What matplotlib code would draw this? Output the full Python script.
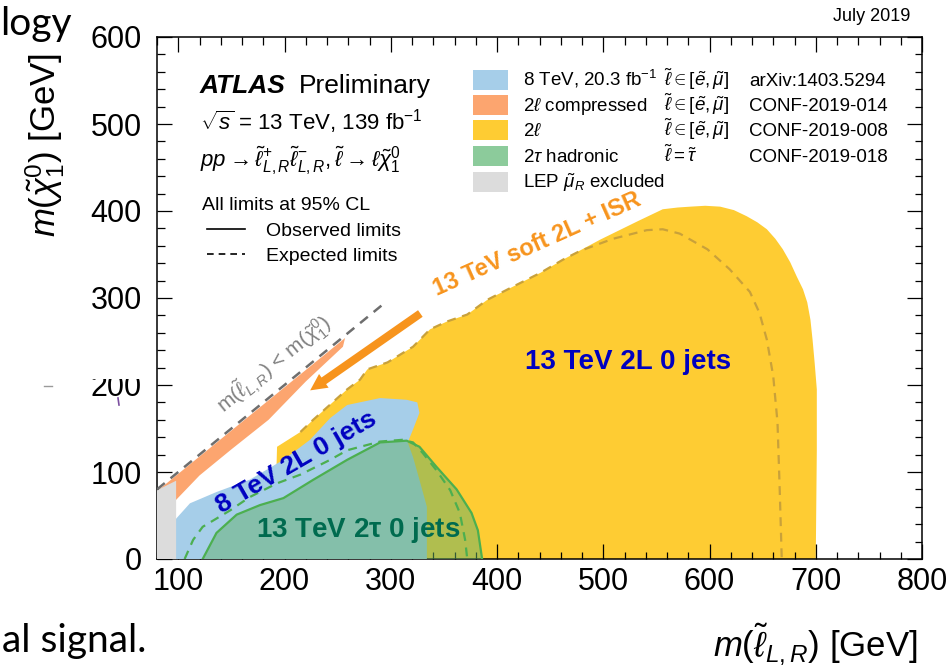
import matplotlib
matplotlib.use("Agg")
import matplotlib.pyplot as plt
from matplotlib.patches import Rectangle, FancyArrowPatch
from matplotlib.lines import Line2D
from matplotlib.ticker import MultipleLocator

plt.rcParams["font.family"] = ["Liberation Sans", "DejaVu Sans"]
plt.rcParams["mathtext.fontset"] = "custom"
plt.rcParams["mathtext.rm"] = "Liberation Sans"
plt.rcParams["mathtext.it"] = "Liberation Sans:italic"
plt.rcParams["mathtext.bf"] = "Liberation Sans:bold"

# exclusion contours, m(slepton) vs m(neutralino) in GeV
yellow_obs_x = [190, 193, 215, 227, 259, 271, 278, 297, 321, 337, 353, 372, 391, 415, 441, 462,
                497, 532, 556, 570, 582, 596, 610, 623, 635, 645, 654, 662, 669, 676, 682, 688,
                692, 695, 697, 699, 701, 701, 701, 700]
yellow_obs_y = [0, 129, 146, 160, 195, 206, 218, 226, 244, 264, 273, 281, 298, 313, 329, 344,
                367, 388, 402, 404, 405, 406, 405, 401, 394, 387, 379, 368, 356, 341, 325, 310,
                295, 275, 252, 225, 195, 160, 125, 0]
yellow_exp_x = [215, 227, 259, 271, 278, 297, 321, 337, 353, 372, 391, 415, 441, 462, 478, 509,
                541, 556, 572, 598, 619, 638, 647, 654, 660, 664, 666, 668]
yellow_exp_y = [146, 160, 195, 206, 218, 226, 244, 264, 273, 281, 298, 313, 329, 344, 354, 368,
                378, 379, 374, 356, 333, 307, 283, 252, 210, 157, 83, 0]

blue_x = [97, 97, 111, 136, 167, 199, 224, 243, 259, 290, 315, 325, 327, 321, 316, 321, 327, 334, 334]
blue_y = [0, 45, 64, 77, 91, 114, 137, 162, 177, 185, 183, 180, 168, 149, 134, 117, 91, 60, 0]

green_obs_x = [123, 136, 155, 177, 199, 227, 259, 290, 315, 327, 343, 362, 376, 382, 386]
green_obs_y = [0, 30, 51, 62, 70, 91, 114, 134, 136, 129, 106, 80, 53, 33, 0]
green_exp_x = [106, 114, 123, 149, 167, 193, 215, 243, 259, 290, 311, 321, 330, 343, 356, 365, 370, 372]
green_exp_y = [0, 22, 37, 56, 71, 87, 97, 114, 125, 135, 137, 134, 122, 102, 79, 53, 22, 0]

orange_x = [80, 257, 255, 220, 185, 150, 120, 98, 80]
orange_y = [78, 254, 244, 204, 160, 126, 96, 68, 50]

lep_x = [80, 80, 98, 98]
lep_y = [0, 79, 90, 0]

diag_x = [80, 296]
diag_y = [80, 296]

arrow_tail = (330, 284)
arrow_head = (222, 192)

legend_names = [r"8 TeV, 20.3 fb$^{-1}$", r"2$\ell$ compressed", r"2$\ell$",
                r"2$\tau$ hadronic", r"LEP $\tilde{\mu}_R$ excluded"]
legend_states = [r"$\tilde{\ell} \in [\tilde{e}, \tilde{\mu}]$", r"$\tilde{\ell} \in [\tilde{e}, \tilde{\mu}]$",
                 r"$\tilde{\ell} \in [\tilde{e}, \tilde{\mu}]$", r"$\tilde{\ell} = \tilde{\tau}$", ""]
legend_refs = ["arXiv:1403.5294", "CONF-2019-014", "CONF-2019-008", "CONF-2019-018", ""]

C_YELLOW = "#FECC33"
C_BLUE = "#A6CEE9"
C_GREEN = "#64B26C"
C_ORANGE = "#FCA56F"
C_GRAY = "#DCDCDC"
C_LINE_GREEN = "#4CAF50"
legend_colors = [C_BLUE, C_ORANGE, C_YELLOW, "#8CCB9B", C_GRAY]

W, H = 951, 670


def fx(px):
    return px / W


def fy(py):
    return 1 - py / H


fig = plt.figure(figsize=(W / 100, H / 100), dpi=100)
ax = fig.add_axes([fx(157), fy(559), 765 / W, 522 / H])

ax.fill(yellow_obs_x, yellow_obs_y, color=C_YELLOW, lw=0, zorder=1)
ax.plot(yellow_exp_x, yellow_exp_y, color="#C9A13A", lw=1.6, ls=(0, (4, 3)), zorder=2)
ax.fill(blue_x, blue_y, color=C_BLUE, lw=0, zorder=3)
ax.fill(green_obs_x, green_obs_y, color=C_GREEN, alpha=0.5, lw=0, zorder=4)
ax.plot(green_obs_x, green_obs_y, color=C_LINE_GREEN, lw=1.6, zorder=5)
ax.plot(green_exp_x, green_exp_y, color=C_LINE_GREEN, lw=1.6, ls=(0, (4, 3)), zorder=5)
ax.fill(orange_x, orange_y, color=C_ORANGE, lw=0, zorder=4)
ax.fill(lep_x, lep_y, color=C_GRAY, lw=0, zorder=6)
ax.plot(diag_x, diag_y, color="#6E6E6E", lw=1.8, ls=(0, (4, 3)), zorder=7)

ax.add_patch(FancyArrowPatch(arrow_tail, arrow_head, mutation_scale=10, lw=0, color="#F7941D",
                             arrowstyle="simple,head_length=1.2,head_width=1.2,tail_width=0.58",
                             zorder=8))

ax.text(438, 362, "13 TeV soft 2L + ISR", color="#F7941D", fontsize=17, fontweight="bold",
        rotation=24, ha="center", va="center", zorder=9)
ax.text(523, 227, "13 TeV 2L 0 jets", color="#0000C0", fontsize=20, fontweight="bold",
        ha="center", va="center", zorder=9)
ax.text(211, 111, "8 TeV 2L 0 jets", color="#0000C0", fontsize=19, fontweight="bold",
        rotation=30, ha="center", va="center", zorder=9)
ax.text(269, 33, r"13 TeV 2$\mathbf{\tau}$ 0 jets", color="#006B4F", fontsize=20, fontweight="bold",
        ha="center", va="center", zorder=9)
ax.text(190, 224, r"m($\tilde{\ell}_{L,R}$) < m($\tilde{\chi}^{0}_{1}$)", color="#808080", fontsize=15,
        rotation=39, ha="center", va="center", zorder=9)

ax.set_xlim(80, 800)
ax.set_ylim(0, 600)
ax.set_xticks(range(100, 801, 100))
ax.set_yticks(range(0, 601, 100))
ax.xaxis.set_minor_locator(MultipleLocator(20))
ax.yaxis.set_minor_locator(MultipleLocator(20))
ax.tick_params(which="both", direction="in", top=True, right=True, width=0.9)
ax.tick_params(which="major", length=10.8, labelsize=22)
ax.tick_params(which="minor", length=5.4)
ax.tick_params(axis="x", pad=6)
ax.tick_params(axis="y", pad=11)
for s in ax.spines.values():
    s.set_linewidth(1.1)

# ATLAS label block
fig.text(fx(200), fy(93), "ATLAS", fontsize=19, fontweight="bold", style="italic", va="baseline")
fig.text(fx(299), fy(93), "Preliminary", fontsize=19, va="baseline")
fig.text(fx(200), fy(130), r"$\sqrt{s}$ = 13 TeV, 139 fb$^{-1}$", fontsize=16, va="baseline")
fig.text(fx(200), fy(167),
         r"$pp \rightarrow \tilde{\ell}^{+}_{L,R}\tilde{\ell}^{-}_{L,R}, \tilde{\ell} \rightarrow \ell\tilde{\chi}^{0}_{1}$",
         fontsize=16, va="baseline")
fig.text(fx(202), fy(210), "All limits at 95% CL", fontsize=14, va="baseline")
fig.add_artist(Line2D([fx(207), fx(245)], [fy(229), fy(229)], color="black", lw=1.2))
fig.add_artist(Line2D([fx(207), fx(245)], [fy(254), fy(254)], color="black", lw=1.2, ls=(0, (4, 3))))
fig.text(fx(266), fy(236), "Observed limits", fontsize=14, va="baseline")
fig.text(fx(266), fy(261), "Expected limits", fontsize=14, va="baseline")

# legend
row_y = [80, 105, 130, 156, 182]
for i in range(len(legend_names)):
    fig.add_artist(Rectangle((fx(473), fy(row_y[i] + 10)), 35 / W, 20 / H, color=legend_colors[i], lw=0))
    fig.text(fx(523), fy(row_y[i] + 6), legend_names[i], fontsize=13.5, va="baseline")
    fig.text(fx(664), fy(row_y[i] + 6), legend_states[i], fontsize=13.5, va="baseline")
    fig.text(fx(749), fy(row_y[i] + 6), legend_refs[i], fontsize=13.5, va="baseline")

fig.text(fx(910), fy(21), "July 2019", fontsize=13, ha="right", va="baseline")

# axis titles
fig.text(fx(45), fy(145), r"$m(\tilde{\chi}^{0}_{1})$ [GeV]", fontsize=25, rotation=90,
         ha="center", va="center")
fig.text(fx(918), fy(644), r"$m(\tilde{\ell}_{L,R})$ [GeV]", fontsize=25, ha="right", va="center")

# surrounding slide text
fig.text(fx(0), fy(35), "logy", fontsize=28, family="Lato", va="baseline")
fig.text(fx(2), fy(652), "al signal.", fontsize=28, family="Lato", va="baseline")
fig.add_artist(Rectangle((fx(75), fy(379)), 75 / W, 22 / H, color="white", lw=0, zorder=10))
fig.add_artist(Line2D([fx(118), fx(119)], [fy(398), fy(405)], color="#7B4FA0", lw=1.2))
fig.add_artist(Line2D([fx(44), fx(52)], [fy(386), fy(386)], color="#9A9A9A", lw=1.0))

fig.savefig("out.png", dpi=100)
